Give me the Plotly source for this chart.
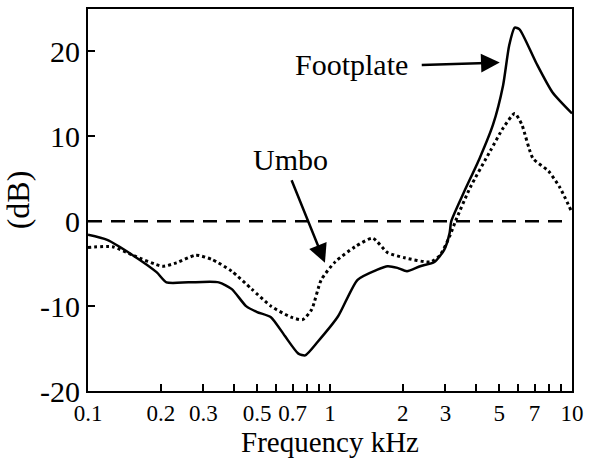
import math
import plotly.graph_objects as go

# Footplate (solid)
foot_f = [0.1, 0.12, 0.153, 0.192, 0.211, 0.26, 0.347, 0.393, 0.45, 0.5, 0.57, 0.65, 0.74, 0.79,
          0.89, 1.08, 1.3, 1.57, 1.73, 1.9, 2.08, 2.36, 2.7, 2.96, 3.12, 3.17, 3.56, 4.15, 4.72,
          5.19, 5.5, 5.8, 6.07, 7.1, 8.3, 10.0]
foot_db = [-1.6, -2.2, -4.0, -6.0, -7.2, -7.2, -7.2, -8.0, -10.0, -10.7, -11.3, -13.5, -15.6, -15.8,
           -14.2, -11.2, -6.9, -5.7, -5.3, -5.5, -5.9, -5.3, -4.8, -3.4, -1.4, 0.0, 3.3, 7.4, 11.4,
           16.0, 20.7, 22.8, 22.6, 18.7, 15.2, 12.7]

# Umbo (dotted)
umbo_f = [0.1, 0.126, 0.153, 0.203, 0.232, 0.279, 0.325, 0.393, 0.475, 0.57, 0.69, 0.77, 0.84,
          0.92, 1.05, 1.27, 1.5, 1.73, 2.03, 2.6, 2.85, 3.12, 3.3, 3.8, 4.6, 5.2, 5.8, 6.2, 6.9,
          8.0, 8.9, 9.9]
umbo_db = [-3.1, -3.0, -4.0, -5.3, -4.9, -4.0, -4.5, -5.9, -8.0, -10.0, -11.3, -11.6, -10.4,
           -6.9, -4.8, -3.0, -2.0, -3.7, -4.3, -4.8, -4.0, -1.8, 0.0, 4.0, 8.3, 11.0, 12.7, 11.4, 7.4,
           5.9, 4.0, 1.3]

ref_f = [0.1, 9.3]
ref_db = [0, 0]

# annotation anchors (frequency kHz, dB)
foot_label = (1.23, 18.5)
foot_arrow_tail = (2.36, 18.4)
foot_arrow_head = (5.03, 18.7)
umbo_label = (0.686, 7.3)
umbo_arrow_tail = (0.69, 5.0)
umbo_arrow_head = (0.953, -4.9)

x_tickvals = [0.1, 0.2, 0.3, 0.4, 0.5, 0.6, 0.7, 0.8, 0.9, 1, 2, 3, 4, 5, 6, 7, 8, 9, 10]
x_ticktext = ["0.1", "0.2", "0.3", "", "0.5", "", "0.7", "", "", "1", "2", "3", "", "5", "", "7", "", "", "10"]
y_tickvals = [-20, -10, 0, 10, 20]
y_ticktext = ["-20", "-10", "0", "10", "20"]

FONT = "Liberation Serif"
lg = math.log10

fig = go.Figure()
fig.add_trace(go.Scatter(x=ref_f, y=ref_db, mode="lines",
                         line=dict(color="black", width=2.5, dash="14px,9px"), showlegend=False))
fig.add_trace(go.Scatter(x=umbo_f, y=umbo_db, mode="lines", line_shape="spline",
                         line=dict(color="black", width=3, dash="dot", smoothing=0.6), showlegend=False))
fig.add_trace(go.Scatter(x=foot_f, y=foot_db, mode="lines", line_shape="spline",
                         line=dict(color="black", width=2.5, smoothing=0.6), showlegend=False))

fig.add_annotation(x=lg(foot_arrow_head[0]), y=foot_arrow_head[1],
                   ax=lg(foot_arrow_tail[0]), ay=foot_arrow_tail[1],
                   xref="x", yref="y", axref="x", ayref="y",
                   text="", showarrow=True, arrowhead=2, arrowsize=1.5, arrowwidth=2.5, arrowcolor="black")
fig.add_annotation(x=lg(foot_label[0]), y=foot_label[1], xref="x", yref="y", text="Footplate",
                   showarrow=False, font=dict(family=FONT, size=30, color="black"))
fig.add_annotation(x=lg(umbo_arrow_head[0]), y=umbo_arrow_head[1],
                   ax=lg(umbo_arrow_tail[0]), ay=umbo_arrow_tail[1],
                   xref="x", yref="y", axref="x", ayref="y",
                   text="", showarrow=True, arrowhead=2, arrowsize=1.5, arrowwidth=2.5, arrowcolor="black")
fig.add_annotation(x=lg(umbo_label[0]), y=umbo_label[1], xref="x", yref="y", text="Umbo",
                   showarrow=False, font=dict(family=FONT, size=30, color="black"))

fig.update_layout(
    width=591, height=458,
    margin=dict(l=88, r=15, t=7, b=65),
    plot_bgcolor="white", paper_bgcolor="white",
    font=dict(family=FONT, size=22, color="black"),
    xaxis=dict(type="log", range=[-1, 1], tickvals=x_tickvals, ticktext=x_ticktext,
               ticks="inside", ticklen=7, tickwidth=2, tickcolor="black",
               tickfont=dict(family=FONT, size=23),
               showline=True, linecolor="black", linewidth=2, mirror=True, showgrid=False,
               zeroline=False,
               title=dict(text="Frequency kHz", font=dict(family=FONT, size=29), standoff=5)),
    yaxis=dict(range=[-20, 25], tickvals=y_tickvals, ticktext=y_ticktext, ticks="inside",
               ticklen=7, tickwidth=2, tickcolor="black", tickfont=dict(family=FONT, size=30),
               showline=True, linecolor="black", linewidth=2, mirror=True,
               showgrid=False, zeroline=False,
               title=dict(text="(dB)", font=dict(family=FONT, size=32), standoff=4)),
)

fig.write_html("out.html")
